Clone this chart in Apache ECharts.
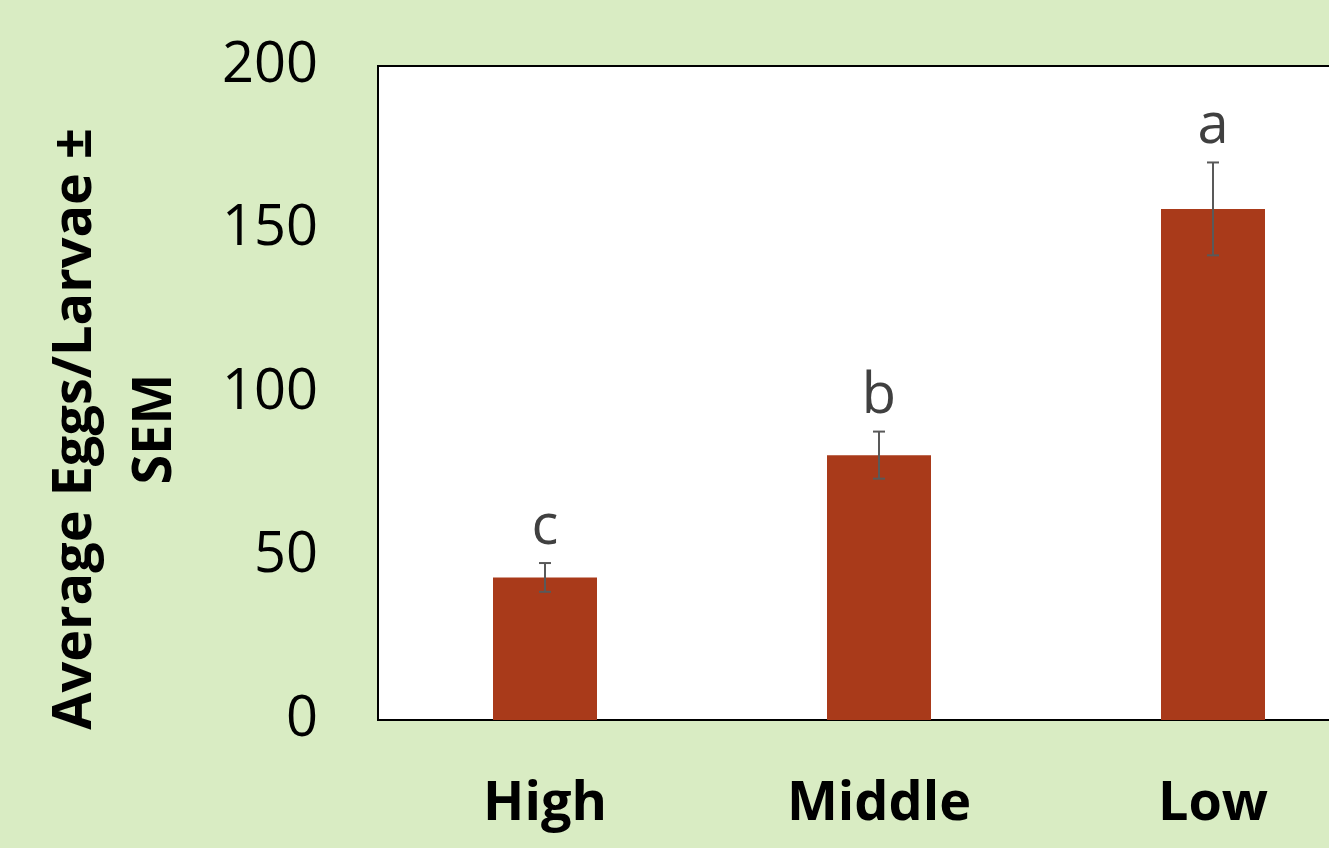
<!DOCTYPE html>
<html>
<head>
<meta charset="utf-8">
<script src="https://cdn.jsdelivr.net/npm/echarts@6/dist/echarts.min.js"></script>
<style>
  html, body { margin: 0; padding: 0; background: #D9ECC3; overflow: hidden; }
  /* the plot frame runs past the right edge of the window */
  #chart { width: 1400px; height: 848px; }
</style>
</head>
<body>
<div id="chart"></div>
<script>
// Site categories and measured averages (± SEM)
const categories = ['High', 'Middle', 'Low'];
const means = [43.6, 81.0, 156.3];
const sem = [4.4, 7.2, 14.2];
const letters = ['c', 'b', 'a'];
const yTicks = { min: 0, max: 200, interval: 50 };

const FONT = '"Open Sans", "Noto Sans", sans-serif';

const errData = categories.map((c, i) => [i, means[i], sem[i]]);

const chart = echarts.init(document.getElementById('chart'));
chart.setOption({
  backgroundColor: '#D9ECC3',
  animation: false,
  grid: {
    left: 378, top: 66, width: 1002, height: 654,
    show: true, backgroundColor: '#ffffff', borderColor: '#000000', borderWidth: 2,
    containLabel: false
  },
  xAxis: {
    type: 'category',
    data: categories,
    axisLine: { show: true, lineStyle: { color: '#000', width: 2 } },
    axisTick: { show: false },
    axisLabel: { color: '#000', fontFamily: FONT, fontWeight: 'bold', fontSize: 54, margin: 58 }
  },
  yAxis: {
    type: 'value',
    min: yTicks.min, max: yTicks.max, interval: yTicks.interval,
    axisLine: { show: true, lineStyle: { color: '#000', width: 2 } },
    axisTick: { show: false },
    splitLine: { show: false },
    axisLabel: { color: '#000', fontFamily: FONT, fontSize: 56, margin: 60 }
  },
  graphic: [{
    type: 'text',
    x: 116, y: 429,
    rotation: Math.PI / 2,
    style: {
      text: 'Average Eggs/Larvae ±\nSEM',
      fontFamily: FONT, fontWeight: 'bold', fontSize: 54,
      fill: '#000', align: 'center', verticalAlign: 'middle', lineHeight: 80
    }
  }],
  series: [
    {
      type: 'bar',
      data: means,
      barWidth: 104,
      itemStyle: { color: '#A93A1A' }
    },
    {
      type: 'custom',
      data: errData,
      z: 10,
      renderItem: function (params, api) {
        const i = api.value(0);
        const m = api.value(1);
        const s = api.value(2);
        const top = api.coord([i, m + s]);
        const bot = api.coord([i, m - s]);
        const cap = 6;
        const ls = { stroke: '#595959', lineWidth: 2 };
        return {
          type: 'group',
          children: [
            { type: 'line', shape: { x1: top[0], y1: top[1], x2: bot[0], y2: bot[1] }, style: ls },
            { type: 'line', shape: { x1: top[0] - cap, y1: top[1], x2: top[0] + cap, y2: top[1] }, style: ls },
            { type: 'line', shape: { x1: bot[0] - cap, y1: bot[1], x2: bot[0] + cap, y2: bot[1] }, style: ls },
            {
              type: 'text',
              x: top[0], y: top[1] - 7,
              style: {
                text: letters[params.dataIndex],
                fontFamily: FONT, fontSize: 56, fill: '#404040',
                align: 'center', verticalAlign: 'bottom'
              }
            }
          ]
        };
      }
    }
  ]
});
</script>
</body>
</html>
